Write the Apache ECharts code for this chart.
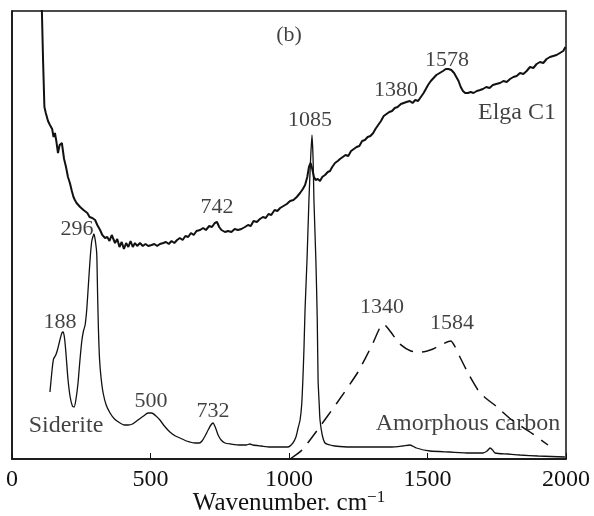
<!DOCTYPE html>
<html>
<head>
<meta charset="utf-8">
<script src="https://cdn.jsdelivr.net/npm/echarts@6/dist/echarts.min.js"></script>
<style>
  html, body { margin: 0; padding: 0; background: #fff; }
  #chart { width: 594px; height: 516px; }
</style>
</head>
<body>
<div id="chart"></div>
<script>
// Raman spectra, arbitrary intensity units
const elgaC1 = [
    [103, 470], [108, 447], [112, 400], [117, 352], [122, 346], [130, 338], [137, 334], [145, 330],
    [150, 322], [155, 326], [160, 318], [166, 306], [172, 314], [180, 316], [188, 300], [195, 292],
    [202, 282], [209, 276], [216, 268], [222, 262], [227, 259], [233, 256], [240, 258], [246, 252],
    [252, 254], [258, 249], [264, 249], [272, 246], [280, 242], [290, 241], [300, 239], [308, 234],
    [318, 229], [326, 224], [336, 221], [344, 222], [352, 218], [360, 224], [366, 222], [372, 216],
    [380, 220], [388, 212], [396, 217], [404, 210], [412, 216], [420, 212], [428, 218], [436, 212],
    [444, 216], [452, 213], [462, 216], [472, 213], [482, 215], [492, 213], [504, 214], [514, 215],
    [524, 213], [534, 215], [546, 216], [556, 217], [566, 215], [576, 218], [586, 216], [596, 219],
    [606, 221], [616, 219], [626, 223], [636, 222], [646, 226], [656, 224], [666, 228], [679, 229],
    [690, 231], [700, 229], [712, 233], [722, 232], [732, 236], [740, 237], [748, 232], [756, 229],
    [769, 227], [780, 228], [792, 227], [804, 230], [816, 229], [828, 230], [841, 232], [852, 234],
    [862, 233], [872, 238], [884, 237], [895, 240], [906, 242], [916, 241], [926, 245], [936, 244],
    [948, 249], [958, 248], [968, 251], [980, 253], [992, 255], [1004, 258], [1016, 259], [1028, 262],
    [1040, 266], [1050, 270], [1058, 274], [1066, 282], [1072, 292], [1078, 296], [1084, 290],
    [1090, 282], [1096, 279], [1104, 280], [1112, 278], [1120, 282], [1130, 284], [1140, 287],
    [1148, 288], [1156, 292], [1166, 296], [1176, 298], [1184, 300], [1194, 302], [1204, 304],
    [1214, 303], [1224, 308], [1234, 310], [1244, 312], [1254, 313], [1264, 318], [1274, 319],
    [1284, 322], [1294, 323], [1304, 326], [1312, 330], [1322, 334], [1332, 338], [1342, 343],
    [1352, 345], [1362, 347], [1372, 348], [1382, 351], [1392, 352], [1404, 355], [1414, 356],
    [1424, 357], [1436, 358], [1446, 356], [1456, 359], [1466, 358], [1476, 362], [1486, 366],
    [1494, 370], [1502, 374], [1512, 378], [1522, 381], [1532, 384], [1544, 386], [1556, 388],
    [1566, 390], [1576, 390], [1586, 389], [1596, 386], [1604, 382], [1612, 378], [1620, 372],
    [1628, 368], [1636, 366], [1646, 366], [1656, 367], [1666, 366], [1678, 368], [1690, 369],
    [1700, 370], [1712, 372], [1724, 371], [1736, 374], [1748, 375], [1762, 376], [1774, 378],
    [1786, 377], [1798, 380], [1810, 382], [1822, 383], [1834, 386], [1846, 385], [1858, 388],
    [1870, 392], [1882, 391], [1894, 395], [1906, 397], [1918, 396], [1930, 400], [1942, 402],
    [1954, 403], [1966, 404], [1978, 406], [1990, 408], [1998, 412]
];

const siderite = [
    [137, 67], [145, 90], [150, 100], [158, 104], [165, 110], [172, 118], [180, 126], [185, 127],
    [190, 120], [195, 105], [202, 80], [210, 62], [218, 53], [224, 52], [230, 58], [238, 75],
    [245, 98], [252, 118], [258, 128], [264, 134], [270, 150], [276, 175], [282, 200], [288, 218],
    [296, 225], [302, 216], [306, 205], [309, 165], [312, 130], [316, 100], [322, 80], [329, 66],
    [340, 54], [354, 46], [370, 40], [390, 36], [405, 34], [419, 34], [435, 35], [455, 39],
    [475, 43], [491, 46], [505, 46], [520, 43], [534, 39], [550, 33], [570, 27], [590, 23],
    [606, 21], [630, 18], [661, 16], [676, 16], [686, 18], [697, 23], [708, 29], [718, 34],
    [726, 36], [735, 31], [744, 24], [755, 19], [769, 16], [790, 15], [823, 14], [845, 14],
    [859, 15], [870, 14], [900, 13], [931, 12], [960, 12], [996, 12], [1014, 16], [1025, 22],
    [1032, 30], [1040, 39], [1046, 55], [1050, 79], [1054, 110], [1058, 150], [1065, 199],
    [1072, 259], [1078, 300], [1083, 324], [1087, 300], [1090, 259], [1097, 199], [1102, 140],
    [1105, 79], [1109, 55], [1112, 39], [1120, 24], [1130, 16], [1148, 14], [1166, 13],
    [1220, 12], [1292, 12], [1370, 12], [1410, 13], [1437, 14], [1460, 11], [1509, 8],
    [1580, 7], [1650, 6], [1700, 6], [1715, 8], [1726, 11], [1735, 9], [1744, 6], [1790, 5],
    [1834, 4], [1900, 3], [1996, 2]
];

const amorphousCarbon = [
    [1004, 0], [1047, 9], [1100, 28], [1173, 56], [1249, 87], [1300, 114], [1339, 135],
    [1350, 133], [1370, 126], [1400, 115], [1440, 108], [1480, 107], [1520, 110], [1555, 115],
    [1584, 118], [1600, 112], [1617, 102], [1650, 84], [1690, 66], [1751, 52], [1800, 40],
    [1870, 27], [1935, 14]
];

// annotation texts and where they sit (in data units)
const labelText = ['(b)', '296', '742', '1085', '1380', '1578', 'Elga C1', '188', 'Siderite', '500', '732', '1340', '1584', 'Amorphous carbon'];
const labelX    = [1000, 235, 740, 1076, 1386, 1570, 1823, 173, 195, 502, 726, 1336, 1588, 1646];
const labelY    = [424, 230, 252, 339, 369, 399, 346, 137, 33, 58, 48, 152, 136, 35];
const labelIsWord = [false, false, false, false, false, false, true, false, true, false, false, false, false, true];

const xTicks = [0, 500, 1000, 1500, 2000];

const serif = 'Liberation Serif, Times New Roman, serif';
const ink = '#111';

const chart = echarts.init(document.getElementById('chart'));

chart.setOption({
    animation: false,
    grid: {
        left: 12, right: 28, top: 11, bottom: 57,
        outerBoundsMode: 'none',
        show: true, borderColor: ink, borderWidth: 1.5
    },
    xAxis: {
        type: 'value',
        min: xTicks[0],
        max: xTicks[xTicks.length - 1],
        interval: 500,
        axisLine: { lineStyle: { color: ink, width: 1.5 } },
        axisTick: { inside: true, length: 6, lineStyle: { color: ink, width: 1 } },
        axisLabel: { color: ink, fontFamily: serif, fontSize: 24, margin: 9, formatter: v => String(v) },
        splitLine: { show: false },
        name: '{a|Wavenumber. cm}{b|−1}',
        nameLocation: 'middle',
        nameGap: 30,
        nameMoveOverlap: false,
        nameTextStyle: {
            rich: {
                a: { fontFamily: serif, fontSize: 25, color: ink },
                b: { fontFamily: serif, fontSize: 17, color: ink, verticalAlign: 'top', padding: [0, 0, 12, 0] }
            }
        }
    },
    yAxis: {
        type: 'value',
        min: 0,
        max: 448,
        axisLine: { show: true, lineStyle: { color: ink, width: 1.5 } },
        axisTick: { show: false },
        axisLabel: { show: false },
        splitLine: { show: false }
    },
    series: [
        {
            name: 'Elga C1',
            type: 'line',
            data: elgaC1,
            showSymbol: false,
            clip: true,
            lineStyle: { color: ink, width: 2 }
        },
        {
            name: 'Siderite',
            type: 'line',
            data: siderite,
            showSymbol: false,
            smooth: 0.2,
            lineStyle: { color: ink, width: 1.3 }
        },
        {
            name: 'Amorphous carbon',
            type: 'line',
            data: amorphousCarbon,
            showSymbol: false,
            smooth: 0.2,
            lineStyle: { color: ink, width: 1.5, type: [15, 9] }
        },
        {
            type: 'scatter',
            symbolSize: 0,
            silent: true,
            data: labelText.map((t, i) => ({
                value: [labelX[i], labelY[i], t],
                label: { fontSize: labelIsWord[i] ? 24 : 22 }
            })),
            label: {
                show: true,
                position: 'inside',
                formatter: p => p.data.value[2],
                fontFamily: serif,
                fontSize: 22,
                color: ink
            }
        }
    ]
});
</script>
</body>
</html>
